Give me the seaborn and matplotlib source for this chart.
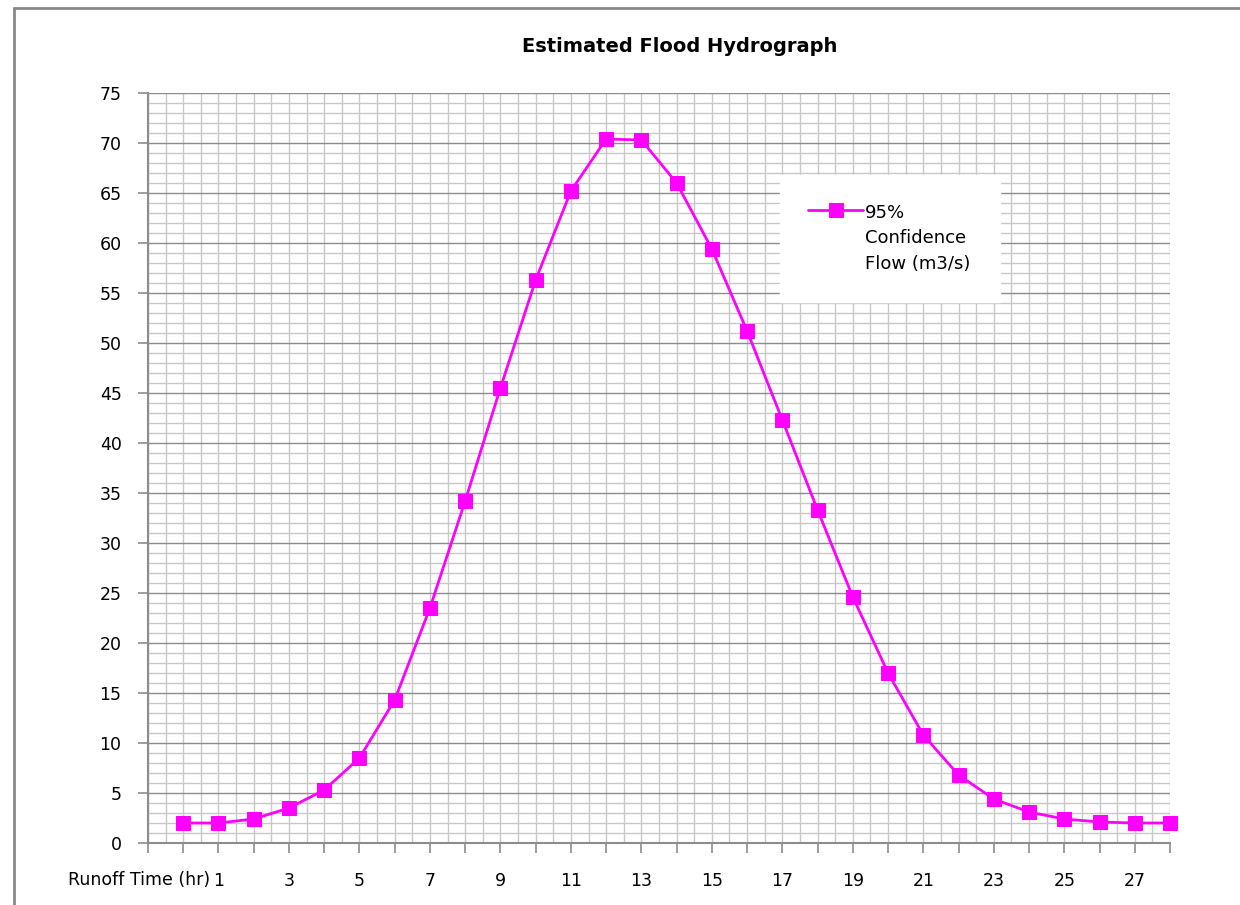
import matplotlib
matplotlib.use("Agg")
import matplotlib.pyplot as plt
from matplotlib.lines import Line2D
import numpy as np
import pandas as pd
import seaborn as sns

# ---- data ----
runoff_time = list(range(0, 29))
flow_95 = [2.0, 2.0, 2.4, 3.5, 5.3, 8.5, 14.3, 23.5, 34.2, 45.5, 56.3, 65.2, 70.4, 70.3,
           66.0, 59.4, 51.2, 42.3, 33.3, 24.6, 17.0, 10.8, 6.8, 4.4, 3.1, 2.4, 2.1, 2.0, 2.0]
x_tick_labels = ["1", "3", "5", "7", "9", "11", "13", "15", "17", "19", "21", "23", "25", "27"]
x_tick_positions = [1, 3, 5, 7, 9, 11, 13, 15, 17, 19, 21, 23, 25, 27]
y_ticks = list(range(0, 80, 5))
series_label = "95%\nConfidence\nFlow (m3/s)"
title = "Estimated Flood Hydrograph"
x_title = "Runoff Time (hr)"

df = pd.DataFrame({"time": runoff_time, "flow": flow_95})

sns.set_theme(style="white")
plt.rcParams["font.family"] = ["DejaVu Sans"]
plt.rcParams["text.color"] = "black"
plt.rcParams["xtick.color"] = "black"
plt.rcParams["ytick.color"] = "black"

fig = plt.figure(figsize=(12.4, 9.05), dpi=100)
ax = fig.add_axes([148 / 1240, 62 / 905, 1022 / 1240, 750 / 905])

magenta = "#FF00FF"
sns.lineplot(data=df, x="time", y="flow", ax=ax, color=magenta, linewidth=2.0,
             marker="s", markersize=10.5, markeredgecolor=magenta, markerfacecolor=magenta,
             label=series_label, zorder=5, clip_on=False)

ax.set_xlim(-1, 28)
ax.set_ylim(0, 75)

# grid
for v in np.arange(-1, 28.01, 0.5):
    ax.axvline(v, color="#c8c8c8", linewidth=1.0, zorder=0)
for v in range(0, 76):
    if v % 5 == 0:
        ax.axhline(v, color="#8c8c8c", linewidth=1.0, zorder=1)
    else:
        ax.axhline(v, color="#c8c8c8", linewidth=1.0, zorder=0)

# spines
for s in ["top", "right"]:
    ax.spines[s].set_visible(False)
ax.spines["left"].set_color("#8c8c8c")
ax.spines["bottom"].set_color("#8c8c8c")
ax.spines["left"].set_linewidth(1.5)
ax.spines["bottom"].set_linewidth(1.5)

# ticks
ax.set_yticks(y_ticks)
ax.set_yticklabels([str(v) for v in y_ticks], fontsize=12.5)
all_x = list(range(-1, 29))
lab_map = dict(zip(x_tick_positions, x_tick_labels))
ax.set_xticks(all_x)
ax.set_xticklabels([lab_map.get(v, "") for v in all_x], fontsize=12.5)
ax.tick_params(axis="x", direction="out", length=7, width=1.2,
               color="#8c8c8c", bottom=True, pad=14, labelcolor="black")
ax.tick_params(axis="y", direction="out", length=7, width=1.2, color="#8c8c8c",
               left=True, pad=12, labelcolor="black")
ax.set_xlabel("")
ax.set_ylabel("")

# title and axis title
fig.text(680 / 1240, 1 - 46 / 905, title, ha="center", va="center",
         fontsize=14, fontweight="bold", color="black")
fig.text(68 / 1240, 1 - 880 / 905, x_title, ha="left", va="center", fontsize=12.5,
         color="black")

# legend
leg = ax.legend(loc="upper left", bbox_to_anchor=(0.618, 0.891), frameon=True,
                fancybox=False, fontsize=13, handlelength=3.0, borderpad=1.6,
                handletextpad=0.15, borderaxespad=0)
leg.get_frame().set_facecolor("white")
leg.get_frame().set_edgecolor("white")
leg.get_frame().set_alpha(1)
leg.set_zorder(10)
for col in leg._legend_handle_box.get_children():
    for hp in col.get_children():
        hp.align = "top"
for t in leg.get_texts():
    t.set_color("black")
    t.set_linespacing(1.55)

# figure border (left and top)
fig.add_artist(Line2D([14 / 1240, 14 / 1240], [0, 1 - 8 / 905], color="#8a8a8a",
                      linewidth=2, transform=fig.transFigure))
fig.add_artist(Line2D([14 / 1240, 1], [1 - 8 / 905, 1 - 8 / 905], color="#8a8a8a",
                      linewidth=2, transform=fig.transFigure))

fig.savefig("out.png", dpi=100, facecolor="white")
